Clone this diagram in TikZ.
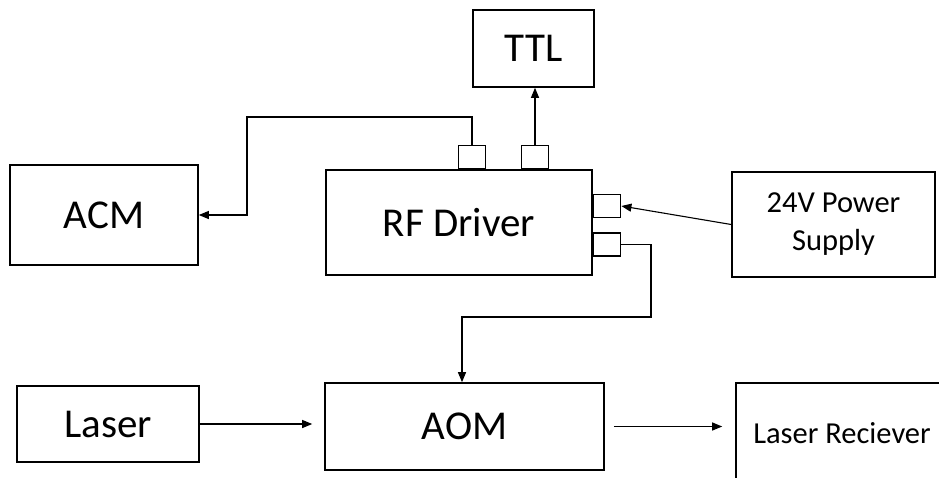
\documentclass[tikz,border=0pt]{standalone}
\usepackage{fontspec}
\setmainfont{Carlito}
\usepackage{tikz}
\usetikzlibrary{shapes,arrows,positioning,calc,arrows.meta}

\begin{document}
\begin{tikzpicture}[x=1pt, y=-1pt,
    block/.style={draw, rectangle, line width=1.6pt, inner sep=0pt, font=\fontsize{41}{49}\selectfont},
    smallblock/.style={block, align=center, font=\fontsize{30.5}{38}\selectfont},
    port/.style={draw, rectangle, line width=1.6pt, minimum width=27pt, minimum height=23pt, inner sep=0pt},
    conn/.style={line width=1.1pt, -{Triangle[length=10pt,width=8pt]}}
]
    \useasboundingbox (0,0) rectangle (939,477);

    % Blocks
    \node [block, minimum width=188pt, minimum height=100pt] (acm) at (104,215) {ACM};
    \node [block, minimum width=266pt, minimum height=105pt] (rf) at (459,222.5) {RF Driver};
    \node [block, minimum width=121pt, minimum height=77pt] (ttl) at (533.5,48.5) {TTL};
    \node [smallblock, minimum width=203pt, minimum height=105pt] (psu) at (833.5,224.5) {24V Power\\Supply};
    \node [block, minimum width=182pt, minimum height=76pt] (laser) at (108,424) {Laser};
    \node [block, minimum width=279pt, minimum height=87pt] (aom) at (464.5,426.5) {AOM};
    \node [smallblock, minimum width=212pt, minimum height=100pt] (rec) at (842,433) {Laser Reciever};

    % Ports on the RF driver
    \node [port, anchor=south] (portA) at ([xshift=13pt]rf.north) {};
    \node [port, anchor=south] (portB) at ([xshift=76pt]rf.north) {};
    \node [port, anchor=west] (portC) at ([yshift=16.5pt]rf.east) {};
    \node [port, anchor=west] (portD) at ([yshift=-22pt]rf.east) {};

    % Connections
    \coordinate (bendA) at (247,117);
    \coordinate (bendB) at (651,317);
    \draw [conn] (portA.north) |- (bendA) |- (acm.east);
    \draw [conn] (portB.north) -- (portB.north |- ttl.south);
    \draw [conn] (psu.west) -- (portC.east);
    \draw [conn] (portD.east) -| (bendB) -| ([xshift=-2.5pt]aom.north);
    \draw [conn] (laser.east) -- ([xshift=-12pt]aom.west |- laser.east);
    \draw [conn] ([xshift=9pt]aom.east) -- ([xshift=-13pt]rec.west |- aom.east);
\end{tikzpicture}
\end{document}
